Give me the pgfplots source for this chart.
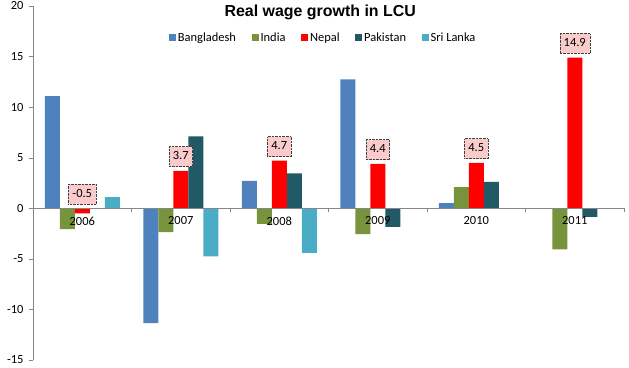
\documentclass[border=0pt]{standalone}
\usepackage{pgfplots}
\pgfplotsset{compat=1.18}
\usepackage{fontspec}
\setmainfont{Carlito}
\newfontfamily\titlefont{Liberation Sans}
\definecolor{cBan}{HTML}{4F81BD}
\definecolor{cInd}{HTML}{77933C}
\definecolor{cNep}{HTML}{FF0000}
\definecolor{cPak}{HTML}{215967}
\definecolor{cSri}{HTML}{4BACC6}
\definecolor{labpink}{HTML}{F9CBCB}
\definecolor{axgray}{HTML}{868686}
\begin{document}
\begin{tikzpicture}[x=1bp,y=1bp]
\useasboundingbox (0,0) rectangle (629,367);
\begin{axis}[
  at={(33bp,7bp)}, anchor=south west,
  scale only axis, width=591bp, height=354bp,
  ymin=-15, ymax=20, xmin=-0.5, xmax=5.5,
  ytick={-15,-10,...,20},
  xtick={0,...,5},
  xticklabels={2006,2007,2008,2009,2010,2011},
  minor xtick={-0.5,0.5,...,5.5},
  axis y line*=left, axis x line*=middle,
  axis line style={axgray},
  axis on top,
  tick align=outside,
  major tick length=4bp, minor tick length=4bp,
  xtick style={draw=none},
  minor x tick style={draw=axgray},
  ytick style={draw=axgray},
  tick label style={font=\fontsize{12.5}{14}\selectfont, text=black},
  /pgf/number format/assume math mode=true,
  xticklabel style={yshift=-1bp},
  yticklabel style={xshift=-2bp},
  ybar, bar width=15bp,
  legend columns=5,
  legend style={draw=none, fill=none, at={(0.491,0.91)}, anchor=center,
    font=\fontsize{12.5}{14}\selectfont,
    /tikz/every even column/.append style={column sep=13.5bp}},
  legend image code/.code={\fill[#1] (0bp,-3.5bp) rectangle (7bp,3.5bp);},
  clip=false,
]
\addplot[ybar, bar shift=-30bp, fill=cBan, draw=none] coordinates {(0,11.1) (1,-11.35) (2,2.7) (3,12.75) (4,0.5)};
\addlegendentry{Bangladesh}
\addplot[ybar, bar shift=-15bp, fill=cInd, draw=none] coordinates {(0,-2.05) (1,-2.35) (2,-1.55) (3,-2.55) (4,2.1) (5,-4.05)};
\addlegendentry{India}
\addplot[ybar, bar shift=0bp, fill=cNep, draw=none] coordinates {(0,-0.5) (1,3.7) (2,4.7) (3,4.4) (4,4.5) (5,14.9)};
\addlegendentry{Nepal}
\addplot[ybar, bar shift=0bp, draw=none, fill=none, forget plot,
  point meta=explicit symbolic, nodes near coords,
  every node near coord/.style={anchor=south, yshift=4bp, fill=labpink, draw=black!75, densely dotted,
    font=\fontsize{12.5}{14}\selectfont, text=black, inner xsep=4bp, inner ysep=4bp,
    text height=9bp, text depth=3bp}]
  coordinates {(0,0)[-0.5] (1,3.7)[3.7] (2,4.7)[4.7] (3,4.4)[4.4] (4,4.5)[4.5] (5,14.9)[14.9]};
\addplot[ybar, bar shift=15bp, fill=cPak, draw=none] coordinates {(1,7.1) (2,3.45) (3,-1.85) (4,2.6) (5,-0.86)};
\addlegendentry{Pakistan}
\addplot[ybar, bar shift=30bp, fill=cSri, draw=none] coordinates {(0,1.1) (1,-4.75) (2,-4.4)};
\addlegendentry{Sri Lanka}
\node[font=\titlefont\bfseries\fontsize{16}{18}\selectfont] at (rel axis cs:0.486,0.983) {Real wage growth in LCU};
\end{axis}
\end{tikzpicture}
\end{document}
